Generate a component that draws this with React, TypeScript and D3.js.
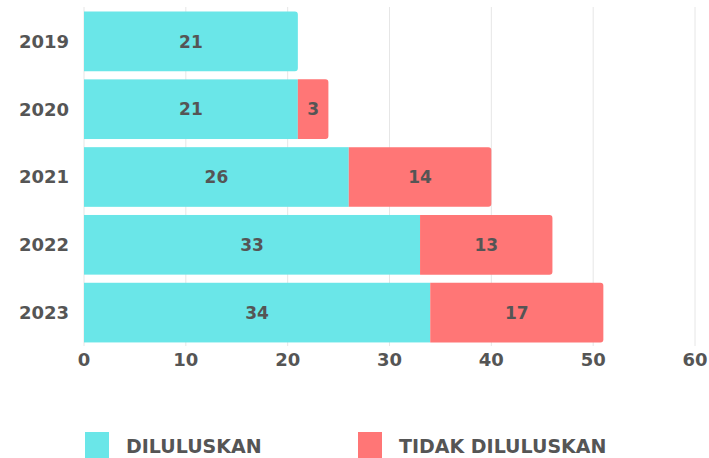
import React, { useRef, useEffect } from 'react';
import * as d3 from 'd3';

const years = ['2019', '2020', '2021', '2022', '2023'];
const diluluskan = [21, 21, 26, 33, 34];
const tidakDiluluskan = [0, 3, 14, 13, 17];
const xTicks = [0, 10, 20, 30, 40, 50, 60];
const seriesNames = ['DILULUSKAN', 'TIDAK DILULUSKAN'];
const colors = ['#6ae6e8', '#ff7676'];

const FONT = '"DejaVu Sans", sans-serif';
const TEXT = '#555555';

const App = () => {
  const ref = useRef<SVGSVGElement>(null);

  useEffect(() => {
    const svg = d3.select(ref.current);
    svg.selectAll('*').remove();

    const x = d3.scaleLinear().domain([0, 60]).range([84, 695]);
    const y = d3.scaleBand().domain(years).range([7.5, 346.5]).paddingInner(0.12).paddingOuter(0.06);

    // grid
    svg.append('g')
      .selectAll('line')
      .data(xTicks)
      .join('line')
      .attr('x1', d => x(d))
      .attr('x2', d => x(d))
      .attr('y1', 7)
      .attr('y2', 346)
      .attr('stroke', '#e6e6e6')
      .attr('stroke-width', 1);

    const rows = years.map((yr, i) => ({ yr, a: diluluskan[i], b: tidakDiluluskan[i] }));
    const r = 3;
    const roundRight = (x0: number, x1: number, y0: number, h: number) => {
      const p = d3.path();
      p.moveTo(x0, y0);
      p.lineTo(x1 - r, y0);
      p.arcTo(x1, y0, x1, y0 + r, r);
      p.lineTo(x1, y0 + h - r);
      p.arcTo(x1, y0 + h, x1 - r, y0 + h, r);
      p.lineTo(x0, y0 + h);
      p.closePath();
      return p.toString();
    };

    const label = (sel: any, size: number) =>
      sel.attr('font-family', FONT).attr('font-weight', 700).attr('font-size', size).attr('fill', TEXT);

    const g = svg.append('g');
    rows.forEach(d => {
      const y0 = y(d.yr)!;
      const h = y.bandwidth();
      if (d.b > 0) {
        g.append('rect')
          .attr('x', x(0)).attr('y', y0)
          .attr('width', x(d.a) - x(0)).attr('height', h)
          .attr('fill', colors[0]);
        g.append('path')
          .attr('d', roundRight(x(d.a), x(d.a + d.b), y0, h))
          .attr('fill', colors[1]);
      } else {
        g.append('path')
          .attr('d', roundRight(x(0), x(d.a), y0, h))
          .attr('fill', colors[0]);
      }
      label(g.append('text')
        .attr('x', (x(0) + x(d.a)) / 2).attr('y', y0 + h / 2)
        .attr('dy', '0.36em').attr('text-anchor', 'middle'), 17)
        .text(d.a);
      if (d.b > 0) {
        label(g.append('text')
          .attr('x', (x(d.a) + x(d.a + d.b)) / 2).attr('y', y0 + h / 2)
          .attr('dy', '0.36em').attr('text-anchor', 'middle'), 17)
          .text(d.b);
      }
    });

    // y labels
    label(svg.append('g')
      .selectAll('text')
      .data(years)
      .join('text')
      .attr('x', 69)
      .attr('y', d => y(d)! + y.bandwidth() / 2)
      .attr('dy', '0.36em')
      .attr('text-anchor', 'end'), 18)
      .text(d => d);

    // x labels
    label(svg.append('g')
      .selectAll('text')
      .data(xTicks)
      .join('text')
      .attr('x', d => x(d))
      .attr('y', 360)
      .attr('dy', '0.36em')
      .attr('text-anchor', 'middle'), 18)
      .text(d => d);

    // legend
    const legendX = [85, 358];
    const leg = svg.append('g');
    seriesNames.forEach((name, i) => {
      leg.append('rect')
        .attr('x', legendX[i]).attr('y', 432)
        .attr('width', 24).attr('height', 30)
        .attr('fill', colors[i]);
      label(leg.append('text')
        .attr('x', legendX[i] + 41).attr('y', 446)
        .attr('dy', '0.36em'), 19)
        .text(name);
    });
  }, []);

  return (
    <svg ref={ref} width={709} height={458} style={{ position: 'absolute', left: 0, top: 0, background: 'white' }} />
  );
};

export default App;
